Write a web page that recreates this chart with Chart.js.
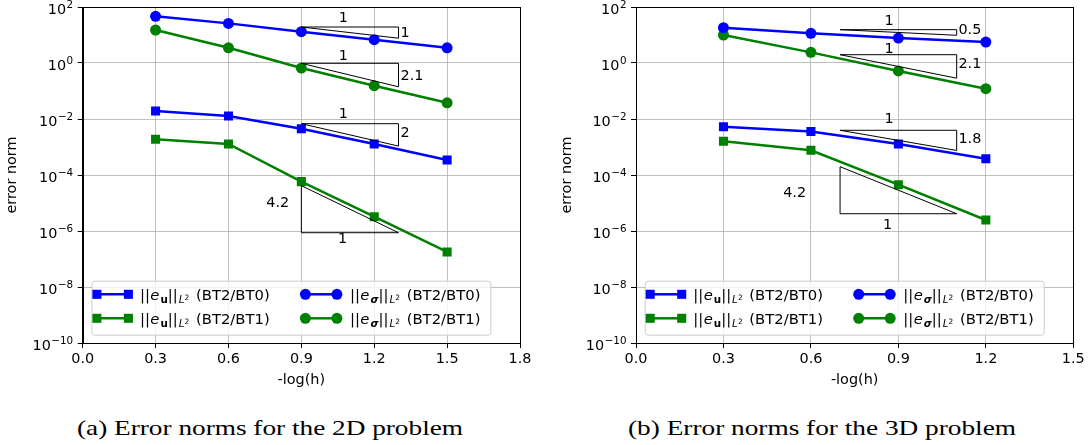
<!DOCTYPE html>
<html><head><meta charset="utf-8">
<script src="https://cdn.jsdelivr.net/npm/chart.js@4/dist/chart.umd.min.js"></script>
<style>
body{margin:0;background:#fff;width:1091px;height:445px;overflow:hidden;position:relative}
#c1{position:absolute;left:0;top:0}
#c2{position:absolute;left:545px;top:0}
.cap{position:absolute;top:415px;font-family:"Liberation Serif",serif;font-size:21px;white-space:nowrap;line-height:26px;color:#000;transform-origin:0 0}
</style></head><body>
<canvas id="c1" width="545" height="400"></canvas>
<canvas id="c2" width="546" height="400"></canvas>
<div class="cap" id="cap1">(a) Error norms for the 2D problem</div>
<div class="cap" id="cap2">(b) Error norms for the 3D problem</div>
<script>
// ---------- data ----------
const xTicks2D = [0.0, 0.3, 0.6, 0.9, 1.2, 1.5, 1.8];
const xTicks3D = [0.0, 0.3, 0.6, 0.9, 1.2, 1.5];
const yTicks = [1e-10, 1e-8, 1e-6, 1e-4, 1e-2, 1e0, 1e2];

const h2D = [0.3, 0.6, 0.9, 1.2, 1.5];
const u_BT0_2D = [0.0193, 0.0128, 0.0045, 0.00128, 0.000343];
const u_BT1_2D = [0.00188, 0.00128, 5.8e-5, 3.25e-6, 1.78e-7];
const s_BT0_2D = [46.4, 26.0, 13.1, 6.8, 3.5];
const s_BT1_2D = [15.1, 3.5, 0.66, 0.155, 0.038];

const h3D = [0.3, 0.6, 0.9, 1.2];
const u_BT0_3D = [0.0053, 0.0036, 0.00128, 0.00038];
const u_BT1_3D = [0.0016, 0.00076, 4.5e-5, 2.47e-6];
const s_BT0_3D = [18.3, 11.5, 7.8, 5.6];
const s_BT1_3D = [10.0, 2.4, 0.52, 0.121];

const legendSuffix = ['(BT2/BT0)', '(BT2/BT1)', '(BT2/BT0)', '(BT2/BT1)'];

// slope triangles (x0, x1 in -log(h); y0 error value at x0; slope)
const tri2D = [
  {kind:'upper', x0:0.9, x1:1.3, y0:19.3, slope:1},
  {kind:'upper', x0:0.9, x1:1.3, y0:0.975, slope:2.1},
  {kind:'upper', x0:0.9, x1:1.3, y0:0.0068, slope:2},
  {kind:'lower', x0:0.9, x1:1.3, y0:4.16e-5, slope:4.2}
];
const tri3D = [
  {kind:'upper', x0:0.7, x1:1.1, y0:15.5, slope:0.5},
  {kind:'upper', x0:0.7, x1:1.1, y0:1.98, slope:2.1},
  {kind:'upper', x0:0.7, x1:1.1, y0:0.00395, slope:1.8},
  {kind:'lower', x0:0.7, x1:1.1, y0:1.98e-4, slope:4.2}
];
// slope labels (text, x, log10 y, alignment)
const lab2D = [
  {t:'1', x:1.073, ly:1.582, a:'center'}, {t:'1', x:1.308, ly:1.061, a:'left'},
  {t:'1', x:1.073, ly:0.25, a:'center'}, {t:'2.1', x:1.308, ly:-0.464, a:'left'},
  {t:'1', x:1.073, ly:-1.821, a:'center'}, {t:'2', x:1.308, ly:-2.511, a:'left'},
  {t:'4.2', x:0.803, ly:-5.011, a:'center'}, {t:'1', x:1.070, ly:-6.296, a:'center'}
];
const lab3D = [
  {t:'1', x:0.868, ly:1.507, a:'center'}, {t:'0.5', x:1.106, ly:1.168, a:'left'},
  {t:'1', x:0.868, ly:0.489, a:'center'}, {t:'2.1', x:1.106, ly:-0.036, a:'left'},
  {t:'1', x:0.868, ly:-2.011, a:'center'}, {t:'1.8', x:1.106, ly:-2.725, a:'left'},
  {t:'4.2', x:0.544, ly:-4.654, a:'center'}, {t:'1', x:0.863, ly:-5.811, a:'center'}
];

// ---------- styling ----------
const FAM = '"DejaVu Sans", sans-serif';
const TF = 14.4;
const BLUE = '#0000ff', GREEN = '#008000';
const SQ_R = 6.4, CI_R = 5.5;

function drawMarker(ctx, style, x, y, color) {
  ctx.fillStyle = color;
  if (style === 'rect') {
    const s = Math.SQRT1_2 * SQ_R;
    ctx.fillRect(x - s, y - s, 2 * s, 2 * s);
  } else {
    ctx.beginPath(); ctx.arc(x, y, CI_R, 0, Math.PI * 2); ctx.fill();
  }
}

function drawLegendText(ctx, x, yc, sym, symBoldItalic, suffix) {
  const F = 14.8;
  const parts = [
    {t:'||', f:`${F}px ${FAM}`, dy:0},
    {t:'e', f:`italic ${F}px ${FAM}`, dy:0, gap:0.5},
    {t:sym, f:`${symBoldItalic ? 'italic ' : ''}bold ${F*0.7}px ${FAM}`, dy:F*0.22, gap:1},
    {t:'||', f:`${F}px ${FAM}`, dy:0},
    {t:'L', f:`italic ${F*0.7}px ${FAM}`, dy:F*0.26, gap:1},
    {t:'2', f:`${F*0.5}px ${FAM}`, dy:F*0.0},
    {t:' ' + suffix, f:`${F}px ${FAM}`, dy:0, gap:2}
  ];
  ctx.fillStyle = '#000';
  ctx.textAlign = 'left';
  ctx.textBaseline = 'alphabetic';
  let cx = x;
  const by = yc + F * 0.36;
  parts.forEach(p => {
    ctx.font = p.f;
    cx += (p.gap || 0);
    ctx.fillText(p.t, cx, by + p.dy);
    cx += ctx.measureText(p.t).width;
  });
}

const overlay = {
  id: 'overlay',
  afterDatasetsDraw(chart, args, o) {
    const ctx = chart.ctx, xs = chart.scales.x, ys = chart.scales.y;
    ctx.save();
    ctx.strokeStyle = '#000'; ctx.lineWidth = 1;
    o.tris.forEach(t => {
      const yb = t.y0 * Math.pow(10, -t.slope * (t.x1 - t.x0));
      const X0 = xs.getPixelForValue(t.x0), X1 = xs.getPixelForValue(t.x1);
      const Y0 = ys.getPixelForValue(t.y0), Yb = ys.getPixelForValue(yb);
      ctx.beginPath();
      if (t.kind === 'upper') { ctx.moveTo(X0, Y0); ctx.lineTo(X1, Y0); ctx.lineTo(X1, Yb); }
      else { ctx.moveTo(X0, Y0); ctx.lineTo(X0, Yb); ctx.lineTo(X1, Yb); }
      ctx.closePath(); ctx.stroke();
    });
    ctx.fillStyle = '#000';
    ctx.font = `${TF}px ${FAM}`;
    ctx.textBaseline = 'middle';
    o.labels.forEach(l => {
      ctx.textAlign = l.a;
      ctx.fillText(l.t, xs.getPixelForValue(l.x), ys.getPixelForValue(Math.pow(10, l.ly)));
    });
    ctx.restore();
  },
  afterDraw(chart, args, o) {
    const ctx = chart.ctx, ca = chart.chartArea, ys = chart.scales.y;
    ctx.save();
    // y tick labels: 10 with raised exponent
    ctx.fillStyle = '#000';
    ctx.textBaseline = 'alphabetic';
    ctx.textAlign = 'left';
    yTicks.forEach(v => {
      const py = ys.getPixelForValue(v);
      const e = String(Math.round(Math.log10(v))).replace('-', '\u2212');
      ctx.font = `${TF * 0.72}px ${FAM}`;
      const sw = ctx.measureText(e).width;
      ctx.font = `${TF}px ${FAM}`;
      const mw = ctx.measureText('10').width;
      const right = ca.left - 9.5;
      const sx = right - sw, mx = sx - mw - 0.5;
      ctx.fillText('10', mx, py + 6.5);
      ctx.font = `${TF * 0.72}px ${FAM}`;
      ctx.fillText(e, sx, py + 0.5);
    });
    // frame
    ctx.strokeStyle = '#000'; ctx.lineWidth = 1;
    ctx.strokeRect(Math.round(ca.left) + 0.5, Math.round(ca.top) + 0.5, Math.round(ca.right - ca.left), Math.round(ca.bottom - ca.top));
    // legend
    const L = ca.left + 8.7, W = 399, H = 54, B = ca.bottom - 8.3, T = B - H;
    ctx.beginPath();
    ctx.roundRect(L + 0.5, T + 0.5, W, H, 3);
    ctx.fillStyle = 'rgba(255,255,255,0.8)'; ctx.fill();
    ctx.strokeStyle = '#cccccc'; ctx.lineWidth = 1; ctx.stroke();
    const ds = chart.data.datasets;
    const cols = [{m0:5.5, m1:37, tx:48.5}, {m0:214, m1:245.5, tx:258.5}];
    const rows = [13.6, 37.6];
    ds.forEach((d, i) => {
      const c = cols[Math.floor(i / 2)], ry = T + rows[i % 2];
      ctx.strokeStyle = d.borderColor; ctx.lineWidth = 2.5;
      ctx.beginPath(); ctx.moveTo(L + c.m0, ry); ctx.lineTo(L + c.m1, ry); ctx.stroke();
      drawMarker(ctx, d.pointStyle, L + c.m0, ry, d.borderColor);
      drawMarker(ctx, d.pointStyle, L + c.m1, ry, d.borderColor);
      drawLegendText(ctx, L + c.tx, ry, d.sym, d.sym !== 'u', d.suffix);
    });
    ctx.restore();
  }
};

function makeChart(id, h, seriesVals, xTicks, xMax, tris, labels, yWidth, padRight, ytPad) {
  const colors = [BLUE, GREEN, BLUE, GREEN];
  const markers = ['rect', 'rect', 'circle', 'circle'];
  const syms = ['u', 'u', '\u03c3', '\u03c3'];
  const datasets = seriesVals.map((vals, k) => ({
    data: h.map((x, i) => ({x: x, y: vals[i]})),
    borderColor: colors[k], backgroundColor: colors[k],
    pointBackgroundColor: colors[k], pointBorderColor: colors[k],
    pointStyle: markers[k], pointRadius: markers[k] === 'rect' ? SQ_R : CI_R,
    pointBorderWidth: 0, borderWidth: 2.5, tension: 0, fill: false,
    sym: syms[k], suffix: legendSuffix[k]
  }));
  const tickFont = {family: FAM, size: TF};
  const grid = {color: '#b0b0b0', lineWidth: 0.8, tickLength: 5, tickColor: '#000', tickWidth: 1};
  return new Chart(document.getElementById(id), {
    type: 'line',
    data: {datasets},
    plugins: [overlay],
    options: {
      responsive: false, animation: false, events: [],
      layout: {padding: {left: 0, right: padRight, top: 7, bottom: 0}},
      plugins: {legend: {display: false}, tooltip: {enabled: false},
        overlay: {tris: tris, labels: labels}},
      scales: {
        x: {
          type: 'linear', min: 0, max: xMax,
          afterBuildTicks: s => { s.ticks = xTicks.map(v => ({value: v})); },
          afterFit: s => { s.height = 57; },
          ticks: {font: tickFont, color: '#000', padding: 3, maxRotation: 0, autoSkip: false,
            callback: v => Number(v).toFixed(1)},
          grid: grid, border: {display: true, color: '#000', width: 1},
          title: {display: true, text: '-log(h)', font: tickFont, color: '#000', padding: {top: 0, bottom: 11}}
        },
        y: {
          type: 'logarithmic', min: 1e-10, max: 1e2,
          afterBuildTicks: s => { s.ticks = yTicks.map(v => ({value: v})); },
          afterFit: s => { s.width = yWidth; s.paddingTop = 0; s.paddingBottom = 0; },
          ticks: {display: false, autoSkip: false},
          grid: grid, border: {display: true, color: '#000', width: 1},
          title: {display: true, text: 'error norm', font: tickFont, color: '#000', padding: {top: ytPad, bottom: 0}}
        }
      }
    }
  });
}

makeChart('c1', h2D, [u_BT0_2D, u_BT1_2D, s_BT0_2D, s_BT1_2D], xTicks2D, 1.8, tri2D, lab2D, 82.7, 25, 3.6);
makeChart('c2', h3D, [u_BT0_3D, u_BT1_3D, s_BT0_3D, s_BT1_3D], xTicks3D, 1.5, tri3D, lab3D, 91, 17.7, 14);

function fitCap(id, left, right) {
  const el = document.getElementById(id);
  el.style.left = left + 'px';
  const w = el.getBoundingClientRect().width;
  el.style.transform = 'scaleX(' + ((right - left) / w) + ')';
}
fitCap('cap1', 77, 463);
fitCap('cap2', 628, 1016);
</script>
</body></html>
